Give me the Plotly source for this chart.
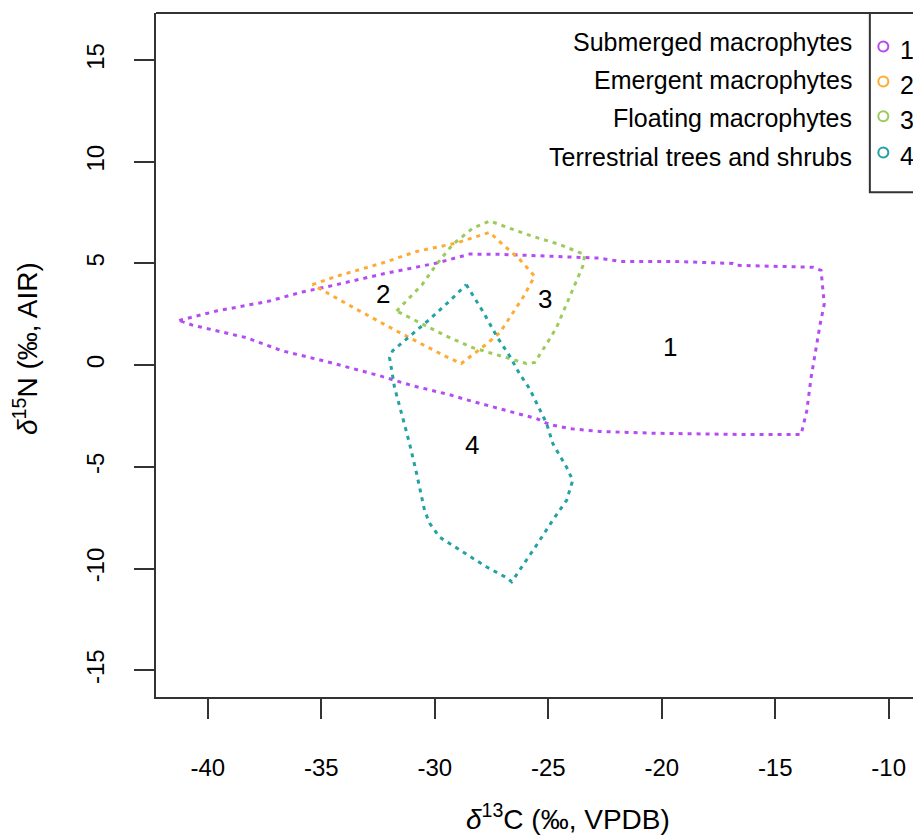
import plotly.graph_objects as go

# ---- data ----
group_names = ["Submerged macrophytes", "Emergent macrophytes",
               "Floating macrophytes", "Terrestrial trees and shrubs"]
group_ids = ["1", "2", "3", "4"]
group_colors = ["#B54CF2", "#FFAA33", "#9CCB5C", "#22A2A2"]

sub_x = [-41.26, -39.62, -37.29, -35.83, -34.64, -32.30, -29.92, -28.46, -27.14, -22.73,
         -21.85, -19.51, -16.86, -16.73, -13.33, -12.98, -12.84, -13.02, -13.42, -13.61,
         -13.86, -16.26, -20.17, -22.73, -24.05, -24.93, -25.51, -26.70, -28.60, -29.35,
         -30.98, -32.43, -34.77, -36.71, -38.30, -40.68]
sub_y = [2.20, 2.66, 3.15, 3.60, 3.88, 4.48, 5.02, 5.46, 5.45, 5.26,
         5.10, 5.10, 5.00, 4.91, 4.81, 4.66, 3.00, 2.02, -0.61, -2.24,
         -3.41, -3.41, -3.35, -3.26, -3.12, -2.92, -2.63, -2.28, -1.70, -1.45,
         -1.01, -0.52, 0.18, 0.70, 1.35, 1.97]

emg_x = [-35.39, -34.33, -32.30, -30.80, -29.05, -27.89, -27.58, -27.07, -26.26, -25.91,
         -25.60, -26.12, -26.57, -27.14, -27.73, -28.46, -28.83, -29.57, -31.68, -33.45,
         -34.64]
emg_y = [3.96, 4.37, 5.02, 5.59, 6.00, 6.42, 6.53, 6.00, 5.20, 4.77,
         4.37, 3.31, 2.57, 1.59, 1.03, 0.37, 0.08, 0.46, 1.68, 2.75,
         3.49]

flo_x = [-31.68, -30.54, -29.92, -29.21, -28.33, -27.58, -26.70, -25.68, -24.49, -23.39,
         -23.48, -23.83, -24.20, -24.64, -25.08, -25.60, -25.96, -27.14, -28.33, -29.49,
         -30.67]
flo_y = [2.66, 3.98, 4.96, 5.93, 6.73, 7.09, 6.73, 6.33, 5.93, 5.43,
         4.86, 3.96, 2.98, 1.84, 1.03, 0.13, 0.08, 0.45, 0.86, 1.43,
         2.08]

ter_x = [-28.61, -28.39, -27.89, -27.23, -26.70, -26.26, -25.82, -25.07, -24.80, -24.19,
         -23.92, -24.19, -24.80, -25.51, -26.26, -26.61, -26.83, -27.71, -28.90, -29.79,
         -30.23, -30.45, -30.80, -31.11, -31.46, -31.68, -31.77, -31.99, -31.86, -30.23,
         -29.35]
ter_y = [3.96, 3.55, 2.66, 1.35, 0.45, -0.43, -1.16, -2.87, -3.85, -5.02,
         -5.66, -6.64, -7.62, -8.84, -10.06, -10.65, -10.45, -9.92, -9.08, -8.45,
         -7.76, -7.13, -5.32, -3.85, -2.38, -1.40, -1.10, 0.37, 0.70, 2.25,
         3.15]

label_x = [-19.64, -32.26, -25.15, -28.37]
label_y = [0.90, 3.49, 3.24, -3.90]

x_ticks = [-40, -35, -30, -25, -20, -15, -10]
y_ticks = [-15, -10, -5, 0, 5, 10, 15]
x_title = "<i>δ</i><sup>13</sup>C (‰, VPDB)"
y_title = "<i>δ</i><sup>15</sup>N (‰, AIR)"

polys = [(sub_x, sub_y), (emg_x, emg_y), (flo_x, flo_y), (ter_x, ter_y)]

FONT = "Liberation Sans, Arial, sans-serif"
AXC = "#333333"

fig = go.Figure()
for (px, py), col, name in zip(polys, group_colors, group_names):
    fig.add_trace(go.Scatter(
        x=px + [px[0]], y=py + [py[0]], mode="lines", name=name,
        line=dict(color=col, width=3, dash="4px,5px"),
        hoverinfo="skip", showlegend=False))

# group number labels inside the polygons
for gx, gy, gid in zip(label_x, label_y, group_ids):
    fig.add_annotation(x=gx, y=gy, text=gid, showarrow=False,
                       font=dict(family=FONT, size=26, color="black"),
                       xanchor="center", yanchor="middle")

# ---- legend (R style) ----
leg_text_y = [0.958, 0.902, 0.846, 0.790]
leg_mark_y = [0.951, 0.900, 0.849, 0.796]
for name, ty, my, col, gid in zip(group_names, leg_text_y, leg_mark_y, group_colors, group_ids):
    fig.add_annotation(xref="paper", yref="paper", x=0.9215, y=ty, text=name,
                       showarrow=False, xanchor="right", yanchor="middle",
                       font=dict(family=FONT, size=25, color="black"))
    fig.add_shape(type="circle", xref="paper", yref="paper",
                  xsizemode="pixel", ysizemode="pixel",
                  xanchor=0.9608, yanchor=my, x0=-5, x1=5, y0=-5, y1=5,
                  line=dict(color=col, width=2), fillcolor="rgba(0,0,0,0)")
    fig.add_annotation(xref="paper", yref="paper", x=0.9800, y=my - 0.005, text=gid,
                       showarrow=False, xanchor="left", yanchor="middle",
                       font=dict(family=FONT, size=25, color="black"))

# legend box (extends beyond the right edge, as in the reference)
fig.add_shape(type="rect", xref="paper", yref="paper", x0=0.943, x1=1.2, y0=0.738, y1=1.0,
              line=dict(color=AXC, width=2), fillcolor="rgba(0,0,0,0)")
# top border of the plot box
fig.add_shape(type="line", xref="paper", yref="paper", x0=0, x1=1, y0=1, y1=1,
              line=dict(color=AXC, width=2))

# axis titles
fig.add_annotation(xref="paper", yref="paper", x=0.544, y=-0.175, text=x_title,
                   showarrow=False, xanchor="center", yanchor="middle",
                   font=dict(family=FONT, size=28, color="black"))
fig.add_annotation(xref="paper", yref="paper", x=-0.172, y=0.51, text=y_title,
                   showarrow=False, xanchor="center", yanchor="middle", textangle=-90,
                   font=dict(family=FONT, size=28, color="black"))

fig.update_xaxes(range=[-42.28, -8.93], tickvals=x_ticks, ticktext=[str(v) for v in x_ticks],
                 showgrid=False, zeroline=False, showline=True, linecolor=AXC, linewidth=2,
                 ticks="outside", ticklen=20, tickwidth=2, tickcolor=AXC,
                 ticklabelstandoff=28,
                 tickfont=dict(family=FONT, size=24, color="black"))
fig.update_yaxes(range=[-16.31, 17.31], tickvals=y_ticks, ticktext=[str(v) for v in y_ticks],
                 showgrid=False, zeroline=False, showline=True, linecolor=AXC, linewidth=2,
                 ticks="outside", ticklen=20, tickwidth=2, tickcolor=AXC,
                 tickangle=-90, ticklabelstandoff=20,
                 tickfont=dict(family=FONT, size=24, color="black"))

fig.update_layout(width=913, height=839, margin=dict(l=156, r=0, t=13, b=142),
                  plot_bgcolor="white", paper_bgcolor="white", showlegend=False)

fig.write_html("out.html", config={"displayModeBar": False},
               post_script="document.body.style.margin='0';document.body.style.overflow='hidden';")
